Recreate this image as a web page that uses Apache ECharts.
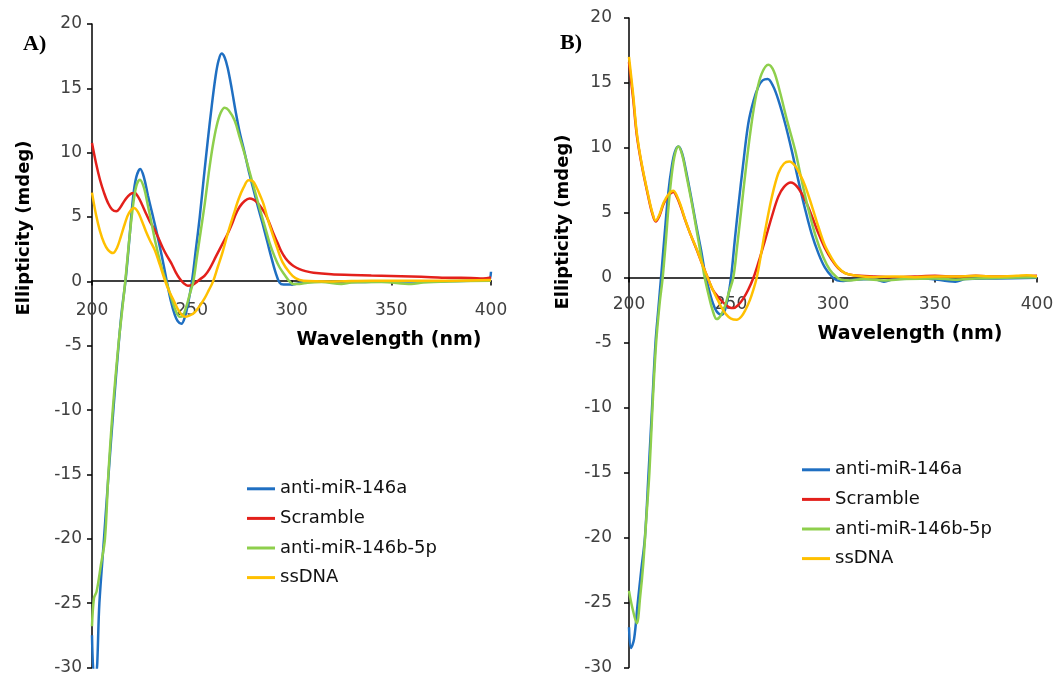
<!DOCTYPE html>
<html>
<head>
<meta charset="utf-8">
<script src="https://cdn.jsdelivr.net/npm/echarts@6/dist/echarts.min.js"></script>
<style>
  html, body { margin: 0; padding: 0; background: #ffffff; }
  #chart { width: 1062px; height: 676px; }
</style>
</head>
<body>
<div id="chart"></div>
<script>
// CD spectra of four oligonucleotides, two conditions (panels A and B)
const seriesNames = ['anti-miR-146a', 'Scramble', 'anti-miR-146b-5p', 'ssDNA'];
const seriesColors = ['#1F6FC2', '#E3201B', '#8ECF4C', '#FFC000'];
const panelLabels = ['A)', 'B)'];
const xTitle = 'Wavelength (nm)';
const yTitle = 'Ellipticity (mdeg)';
const xRange = [200, 400, 50];   // min, max, tick step (nm)
const yRange = [-30, 20, 5];     // min, max, tick step (mdeg)

// Panel A: [wavelength nm, ellipticity mdeg]
const A_antiMiR146a = [[200,-27.5],[201,-30.5],[202,-30.5],[203.7,-25],[206,-20],[208.3,-15],[210.7,-10],[213.3,-5],[215,-2.2],[216.9,0.2],[218.8,3.4],[220.5,6.4],[222.2,8.1],[224.2,8.73],[226,8.1],[228,6.7],[230,5.4],[232,4.1],[234,2.7],[236,1.2],[237.5,0],[239.5,-1.5],[241.5,-2.6],[243,-3.1],[244.8,-3.3],[246.5,-2.8],[248.3,-1.6],[250.1,0],[252,2.4],[254,5.0],[256,8.0],[258,10.9],[260,13.6],[262,16.0],[263.5,17.2],[265,17.7],[266.5,17.4],[268,16.6],[270,15.0],[272,13.2],[274,11.6],[276.5,10.0],[279,8.3],[281,7.1],[283,5.9],[285.5,4.5],[288,3.0],[290,1.8],[292,0.7],[294,-0.1],[296,-0.25],[299,-0.25],[302,-0.2],[306,-0.05],[315,0],[330,-0.05],[350,0],[370,0],[390,0.05],[398.5,0.05],[400,0.75]];
const A_scramble = [[200,10.75],[202,9.2],[204,7.9],[206,6.9],[208,6.1],[210,5.6],[212.2,5.45],[214,5.7],[216,6.2],[218,6.6],[220,6.85],[221.5,6.87],[223,6.6],[225,6.0],[227,5.3],[229,4.65],[231.4,4.0],[233.5,3.3],[235.5,2.6],[237.5,2.0],[239.8,1.4],[242,0.7],[244,0.2],[246,-0.15],[248,-0.33],[250,-0.3],[252,-0.1],[254,0.15],[256.5,0.45],[259,1.0],[262,1.9],[265,2.8],[268,3.7],[270,4.4],[272,5.2],[274,5.8],[276.5,6.25],[279,6.45],[281,6.35],[283,6.1],[285,5.7],[287,5.2],[289,4.5],[291,3.7],[293,3.0],[295,2.3],[297,1.8],[299,1.45],[301,1.2],[304,0.95],[307,0.8],[311,0.67],[320,0.55],[330,0.5],[340,0.45],[350,0.42],[360,0.38],[370,0.33],[380,0.28],[390,0.27],[396,0.22],[400,0.3]];
const A_antiMiR146b5p = [[200,-26.8],[201,-24.6],[202.3,-24.1],[204.5,-22],[206.5,-20],[208.2,-15],[210.4,-10],[213.2,-5],[215,-2.4],[216.8,0.2],[218.5,3.0],[220.5,5.8],[222.2,7.4],[224,7.9],[226,7.3],[228,5.9],[230,4.4],[232,2.9],[234,1.6],[236,0.5],[238,-0.4],[240,-1.4],[242,-2.3],[244,-2.75],[245.5,-2.7],[247,-2.1],[249,-1.0],[250.8,0],[252.5,1.8],[254.5,3.9],[256.5,6.0],[258.5,8.4],[260.5,10.5],[262.5,12.1],[264.5,13.1],[266.5,13.5],[268.5,13.3],[271.5,12.5],[274,11.2],[276.5,9.9],[279,8.5],[281.5,7.1],[284,5.7],[286.6,4.3],[289,3.0],[291.6,1.9],[294,1.1],[296.6,0.5],[299,0],[301,-0.2],[304,-0.2],[308,-0.1],[315,-0.05],[325,-0.2],[330,-0.08],[345,-0.05],[360,-0.2],[366,-0.08],[380,0],[400,0.05]];
const A_ssDNA = [[200,6.9],[202,5.2],[204,3.9],[206,3.0],[208,2.45],[210.5,2.2],[212.5,2.6],[214.5,3.5],[216.5,4.5],[218.5,5.3],[221,5.7],[223,5.4],[225,4.7],[227,3.9],[229,3.2],[231.4,2.45],[234,1.3],[236.4,0.15],[238.5,-0.7],[241,-1.5],[243,-2.15],[245,-2.6],[247,-2.75],[249,-2.65],[251.5,-2.4],[254,-1.9],[256.5,-1.3],[258.5,-0.7],[260.7,0],[263,1.1],[265.5,2.3],[268.2,3.8],[271,5.2],[273.5,6.4],[276,7.3],[278.5,7.85],[280.5,7.8],[282.5,7.3],[284.5,6.6],[286,6.0],[288,4.9],[290,3.9],[292.6,2.7],[295.5,1.5],[299.2,0.65],[302,0.25],[306,0.05],[320,0],[340,0.05],[360,0.05],[380,0.05],[400,0.1]];

// Panel B
const B_antiMiR146a = [[200,-26.9],[201,-28.5],[202.5,-27.8],[204.3,-25],[206,-22.5],[207.8,-20],[209.6,-15],[211.3,-10],[213,-5],[214.5,-2.2],[215.7,0],[217.5,3.4],[219.3,6.6],[221,8.6],[222.5,9.7],[224.2,10.1],[226,9.6],[228,8.2],[230.7,6.0],[233,4.0],[235.6,1.9],[237.3,0.3],[239,-0.8],[241,-1.9],[243,-2.6],[245.4,-2.85],[247,-2.5],[248.5,-1.5],[250,0],[251.8,2.8],[253.6,5.5],[256,8.8],[258.5,11.9],[261,13.6],[263.4,14.7],[265.5,15.2],[268,15.3],[270.5,14.8],[273.2,13.7],[276.5,11.9],[279.7,9.85],[283,7.5],[286.3,5.3],[289.5,3.4],[292.8,1.9],[296,0.8],[299.4,0.1],[302,-0.2],[305,-0.25],[310,-0.15],[320,-0.1],[325,-0.3],[330,-0.1],[345,-0.05],[360,-0.3],[365,-0.1],[380,-0.05],[400,0]];
const B_scramble = [[200,16.6],[201,15.2],[202.1,13.7],[203.8,11.0],[206.2,8.7],[209.5,6.2],[211.5,4.9],[213.1,4.33],[215,4.8],[217,5.7],[219.5,6.35],[221.7,6.6],[223.5,6.2],[225.5,5.4],[227.5,4.46],[230,3.4],[233.2,2.15],[236,1.0],[238.6,0],[241,-0.9],[243.8,-1.5],[246.5,-1.95],[249,-2.25],[251.1,-2.33],[253.5,-2.1],[256,-1.6],[258.5,-0.9],[261,0],[263.5,1.2],[266.7,2.9],[270,4.7],[273.2,6.25],[276,7.0],[279.3,7.33],[282.5,7.0],[286.3,6.0],[289.5,4.8],[292.8,3.44],[296,2.3],[299.4,1.38],[302.5,0.75],[305.9,0.36],[310,0.2],[320,0.1],[330,0.05],[340,0.1],[350,0.15],[360,0.1],[370,0.15],[380,0.1],[390,0.1],[400,0.15]];
const B_antiMiR146b5p = [[200,-24.1],[201.5,-25.3],[203.8,-26.6],[205.5,-24.5],[207,-22],[208.5,-18.5],[210,-15],[211.5,-10],[213.3,-5],[215,-2],[216.5,0],[218,2.7],[219.5,5.7],[221,8],[222.5,9.5],[224.2,10.1],[226,9.5],[228,8.0],[230.5,6.0],[233,3.8],[235.3,1.7],[237,0.1],[239,-1.3],[241,-2.5],[243,-3.18],[245,-2.9],[247,-2.2],[249,-1.1],[251.1,0],[253,2.4],[255,5.2],[257.5,8.7],[260,11.8],[262.5,14.2],[265,15.7],[268.3,16.4],[271,15.9],[274,14.3],[277.5,12.1],[281.4,9.85],[284.5,7.6],[287.9,5.3],[291.5,3.2],[295.2,1.6],[298.5,0.6],[301.8,0.05],[304,-0.15],[308,-0.2],[315,-0.1],[325,-0.2],[335,-0.1],[350,-0.05],[360,-0.15],[370,-0.05],[385,0],[400,0.05]];
const B_ssDNA = [[200,17.0],[201,15.6],[202.1,14.0],[203.8,11.2],[206.2,8.8],[209.5,6.3],[211.5,5.0],[213.1,4.4],[215,4.9],[217,5.8],[219.5,6.45],[221.7,6.7],[223.5,6.3],[225.5,5.5],[227.5,4.5],[230,3.4],[233.2,2.2],[236,1.0],[238.6,0],[241,-0.9],[243.5,-1.7],[245.4,-2.3],[247.5,-2.8],[250,-3.15],[252.8,-3.23],[255,-3.0],[257,-2.5],[259.3,-1.7],[261,-0.9],[262.6,0],[264.5,1.6],[266.7,3.6],[270,6.2],[273.2,8.05],[276,8.8],[278.6,8.95],[281.5,8.6],[284,7.9],[286.3,7.1],[289.5,5.6],[292.8,3.95],[296,2.5],[299.4,1.5],[302.5,0.8],[305.9,0.36],[310,0.2],[320,0.05],[330,0.1],[340,0.05],[350,0.1],[360,0.1],[370,0.15],[380,0.1],[390,0.15],[395,0.2],[400,0.1]];

const panelData = [
  [A_antiMiR146a, A_scramble, A_antiMiR146b5p, A_ssDNA],
  [B_antiMiR146a, B_scramble, B_antiMiR146b5p, B_ssDNA]
];

const FONT = '"DejaVu Sans", sans-serif';
const tickColor = '#404040';

const grids = [
  { left: 92, top: 24, width: 399, height: 645 },
  { left: 629, top: 18, width: 408, height: 650 }
];

// the wavelength axis sits on the y = 0 line: shift it up from the grid bottom
function zeroOffset(g) {
  return -g.height * (0 - yRange[0]) / (yRange[1] - yRange[0]);
}

function makeXAxis(idx, labelMargin) {
  return {
    gridIndex: idx, type: 'value', position: 'bottom',
    offset: zeroOffset(grids[idx]),
    min: xRange[0], max: xRange[1], interval: xRange[2],
    axisLine: { onZero: false, lineStyle: { color: '#000', width: 1.5 } },
    axisTick: { show: true, length: 5, lineStyle: { color: '#000', width: 1.5 } },
    axisLabel: { margin: labelMargin, fontSize: 17, color: tickColor, fontFamily: FONT },
    splitLine: { show: false }
  };
}
function makeYAxis(idx, labelMargin) {
  return {
    gridIndex: idx, type: 'value',
    min: yRange[0], max: yRange[1], interval: yRange[2],
    axisLine: { show: true, onZero: false, lineStyle: { color: '#000', width: 1.5 } },
    axisTick: { show: true, length: 5, lineStyle: { color: '#000', width: 1.5 } },
    axisLabel: { margin: labelMargin, fontSize: 17, color: tickColor, fontFamily: FONT },
    splitLine: { show: false }
  };
}
function makeLegend(left, top) {
  return {
    data: seriesNames, orient: 'vertical', left: left, top: top, padding: 0,
    icon: 'rect', itemWidth: 28, itemHeight: 3, itemGap: 0,
    selectedMode: false,
    textStyle: { fontSize: 18, lineHeight: 29.6, color: '#111', fontFamily: FONT }
  };
}

const series = [];
panelData.forEach((sets, p) => {
  sets.forEach((data, i) => {
    series.push({
      name: seriesNames[i], type: 'line',
      xAxisIndex: p, yAxisIndex: p,
      data: data, symbol: 'none', smooth: 0.35,
      color: seriesColors[i],
      lineStyle: { width: 2.5, color: seriesColors[i] },
      clip: true
    });
  });
});

const chart = echarts.init(document.getElementById('chart'), null, { renderer: 'canvas' });
chart.setOption({
  backgroundColor: '#ffffff',
  animation: false,
  grid: grids,
  xAxis: [makeXAxis(0, 22), makeXAxis(1, 19)],
  yAxis: [makeYAxis(0, 10), makeYAxis(1, 17)],
  legend: [makeLegend(247, 474), makeLegend(802, 455)],
  graphic: [
    { type: 'text', x: 23, y: 44, style: { text: panelLabels[0], font: 'bold 22px "Liberation Serif", serif', fill: '#000', align: 'left', verticalAlign: 'middle' } },
    { type: 'text', x: 560, y: 43, style: { text: panelLabels[1], font: 'bold 22px "Liberation Serif", serif', fill: '#000', align: 'left', verticalAlign: 'middle' } },
    { type: 'text', x: 24, y: 228, rotation: Math.PI / 2, style: { text: yTitle, font: 'bold 18px ' + FONT, fill: '#000', align: 'center', verticalAlign: 'middle' } },
    { type: 'text', x: 563, y: 222, rotation: Math.PI / 2, style: { text: yTitle, font: 'bold 18px ' + FONT, fill: '#000', align: 'center', verticalAlign: 'middle' } },
    { type: 'text', x: 389, y: 340, style: { text: xTitle, font: 'bold 19px ' + FONT, fill: '#000', align: 'center', verticalAlign: 'middle' } },
    { type: 'text', x: 910, y: 334, style: { text: xTitle, font: 'bold 19px ' + FONT, fill: '#000', align: 'center', verticalAlign: 'middle' } }
  ],
  series: series
});
</script>
</body>
</html>
